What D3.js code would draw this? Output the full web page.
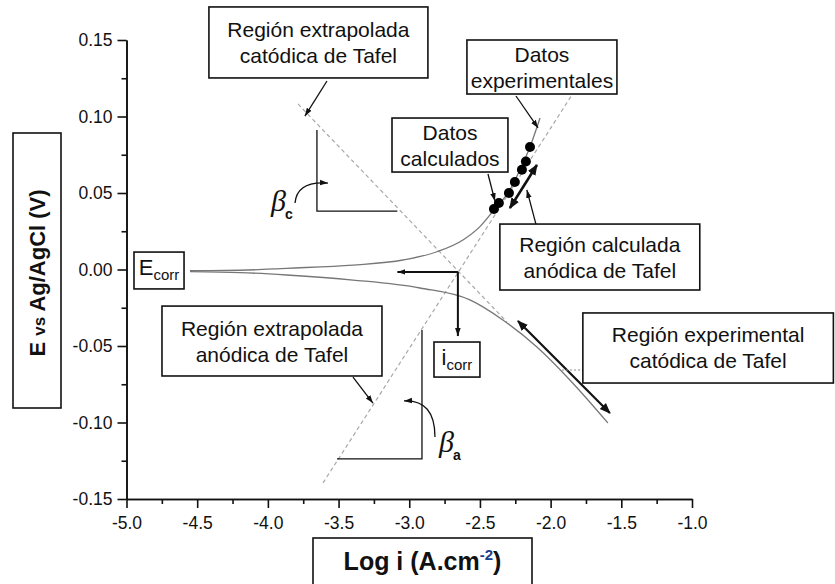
<!DOCTYPE html>
<html>
<head>
<meta charset="utf-8">
<script src="https://cdn.jsdelivr.net/npm/d3@7"></script>
<style>
  body { margin: 0; background: #fff; }
  svg { font-family: "Liberation Sans", Arial, sans-serif; }
</style>
</head>
<body>
<svg id="chart" width="835" height="584"></svg>
<script>
// axis ticks
const xTicks = [-5.0, -4.5, -4.0, -3.5, -3.0, -2.5, -2.0, -1.5, -1.0];
const xMinor = [-4.75, -4.25, -3.75, -3.25, -2.75, -2.25, -1.75, -1.25];
const yTicks = [-0.15, -0.10, -0.05, 0.00, 0.05, 0.10, 0.15];
const yMinor = [-0.125, -0.075, -0.025, 0.025, 0.075, 0.125];

// polarization curve, anodic branch (log i, E)
const anodicLogI = [-4.551, -4.197, -3.867, -3.398, -3.044, -2.804, -2.620, -2.500, -2.401, -2.288, -2.218, -2.146, -2.075];
const anodicE = [-0.0008, -0.0005, 0.0008, 0.0029, 0.0062, 0.0116, 0.0193, 0.0280, 0.0389, 0.0520, 0.0650, 0.0801, 0.0990];

// polarization curve, cathodic branch
const cathodicLogI = [-4.551, -4.197, -3.867, -3.398, -2.924, -2.571, -2.338, -2.097, -1.864, -1.595];
const cathodicE = [-0.0014, -0.0020, -0.0036, -0.0069, -0.0121, -0.0199, -0.0330, -0.0507, -0.0722, -0.1003];

// experimental points
const expLogI = [-2.401, -2.366, -2.295, -2.253, -2.203, -2.175, -2.146];
const expE = [0.0395, 0.0435, 0.0500, 0.0572, 0.0652, 0.0706, 0.0801];

// extrapolated Tafel lines (end points)
const tafelAnodicLogI = [-3.610, -1.849];
const tafelAnodicE = [-0.1395, 0.1141];
const tafelCathodicLogI = [-3.787, -2.309];
const tafelCathodicE = [0.1082, -0.0343];

// corrosion point
const logIcorr = -2.656, eCorr = -0.0016;

let svg = d3.select("#chart");

let x = d3.scaleLinear().domain([-5, -1]).range([126.5, 692]);
let y = d3.scaleLinear().domain([-0.15, 0.15]).range([499, 40]);

let defs = svg.append("defs");
defs.append("marker")
    .attr("id", "arr")
    .attr("viewBox", "0 -5 10 10")
    .attr("refX", 10)
    .attr("markerWidth", 8)
    .attr("markerHeight", 8)
    .attr("markerUnits", "userSpaceOnUse")
    .attr("orient", "auto")
    .append("path").attr("d", "M0,-3.5L10,0L0,3.5Z").attr("fill", "#111");
defs.append("marker")
    .attr("id", "arrBig")
    .attr("viewBox", "0 -5 10 10")
    .attr("refX", 9)
    .attr("markerWidth", 11)
    .attr("markerHeight", 11)
    .attr("markerUnits", "userSpaceOnUse")
    .attr("orient", "auto-start-reverse")
    .append("path").attr("d", "M0,-4L10,0L0,4Z").attr("fill", "#111");

// axes
svg.append("g")
    .attr("transform", "translate(0," + y(-0.15) + ")")
    .call(d3.axisBottom(x).tickValues(xTicks).tickSize(9).tickSizeOuter(0).tickPadding(9)
        .tickFormat(d => d.toFixed(1)));
svg.append("g")
    .attr("transform", "translate(0," + y(-0.15) + ")")
    .call(d3.axisBottom(x).tickValues(xMinor).tickSize(5).tickSizeOuter(0).tickFormat(""));
svg.append("g")
    .attr("transform", "translate(" + x(-5) + ",0)")
    .call(d3.axisLeft(y).tickValues(yTicks).tickSize(9).tickSizeOuter(0).tickPadding(5)
        .tickFormat(d => d.toFixed(2)));
svg.append("g")
    .attr("transform", "translate(" + x(-5) + ",0)")
    .call(d3.axisLeft(y).tickValues(yMinor).tickSize(5).tickSizeOuter(0).tickFormat(""));

svg.selectAll(".domain, .tick line").attr("stroke", "#111").attr("stroke-width", 1.6);
svg.selectAll(".tick text")
    .attr("font-family", "Liberation Sans, Arial, sans-serif")
    .attr("font-size", 17.5)
    .attr("fill", "#111");

// Tafel extrapolations
let line = d3.line().x(d => x(d[0])).y(d => y(d[1]));
let dashed = [
    d3.zip(tafelCathodicLogI, tafelCathodicE),
    d3.zip(tafelAnodicLogI, tafelAnodicE)
];
svg.selectAll(".tafel")
    .data(dashed)
    .enter()
    .append("path")
    .attr("class", "tafel")
    .attr("d", line)
    .attr("fill", "none")
    .attr("stroke", "#a8a8a8")
    .attr("stroke-width", 1.2)
    .attr("stroke-dasharray", "4,3");

// polarization curve
let curve = d3.line().x(d => x(d[0])).y(d => y(d[1])).curve(d3.curveMonotoneX);
svg.selectAll(".branch")
    .data([d3.zip(anodicLogI, anodicE), d3.zip(cathodicLogI, cathodicE)])
    .enter()
    .append("path")
    .attr("class", "branch")
    .attr("d", curve)
    .attr("fill", "none")
    .attr("stroke", "#777")
    .attr("stroke-width", 1.3);

// experimental points
svg.selectAll(".expdot")
    .data(d3.zip(expLogI, expE))
    .enter()
    .append("circle")
    .attr("class", "expdot")
    .attr("cx", d => x(d[0]))
    .attr("cy", d => y(d[1]))
    .attr("r", 5)
    .attr("fill", "#000");

// helpers for annotations (data coords)
function seg(a, b, opts) {
    let p = svg.append("line")
        .attr("x1", x(a[0])).attr("y1", y(a[1]))
        .attr("x2", x(b[0])).attr("y2", y(b[1]))
        .attr("stroke", opts.color || "#111")
        .attr("stroke-width", opts.width || 1.3);
    if (opts.end) p.attr("marker-end", "url(#" + opts.end + ")");
    if (opts.start) p.attr("marker-start", "url(#" + opts.start + ")");
    if (opts.dash) p.attr("stroke-dasharray", opts.dash);
    return p;
}

function box(b) {
    let x0 = x(b.x0), x1 = x(b.x1), y0 = y(b.y0), y1 = y(b.y1);
    svg.append("rect")
        .attr("x", x0).attr("y", y0)
        .attr("width", x1 - x0).attr("height", y1 - y0)
        .attr("fill", "#fff")
        .attr("stroke", "#111")
        .attr("stroke-width", 1.6);
    let cx = (x0 + x1) / 2, cy = (y0 + y1) / 2;
    b.lines.forEach(function (t, i) {
        svg.append("text")
            .attr("x", cx)
            .attr("y", cy + (i - (b.lines.length - 1) / 2) * 26 + 7.5)
            .attr("text-anchor", "middle")
            .attr("font-size", 21)
            .attr("fill", "#111")
            .text(t);
    });
}

// thick arrows along Tafel regions
seg([-2.288, 0.0402], [-2.097, 0.0683], {width: 2.6, end: "arrBig", start: "arrBig"});
seg([-2.231, -0.0337], [-1.581, -0.0938], {width: 2.2, end: "arrBig", start: "arrBig"});
seg([-1.919, -0.0657], [-1.772, -0.0657], {width: 1, color: "#888", dash: "2,2"});

// icorr / Ecorr arrows from the intersection
seg([logIcorr, eCorr], [-3.084, eCorr], {width: 2, end: "arr"});
seg([logIcorr, eCorr], [logIcorr, -0.0435], {width: 2, end: "arr"});

// beta c bracket
svg.append("path")
    .attr("d", "M" + x(-3.653) + "," + y(0.0912) + "V" + y(0.0382) + "H" + x(-3.084))
    .attr("fill", "none").attr("stroke", "#111").attr("stroke-width", 1.3);
svg.append("path")
    .attr("d", "M" + x(-3.808) + "," + y(0.0435) + "Q" + x(-3.795) + "," + y(0.0580) + " " + x(-3.575) + "," + y(0.0565))
    .attr("fill", "none").attr("stroke", "#111").attr("stroke-width", 1.3)
    .attr("marker-end", "url(#arr)");

// beta a bracket
svg.append("path")
    .attr("d", "M" + x(-2.910) + "," + y(-0.0395) + "V" + y(-0.1238) + "H" + x(-3.511))
    .attr("fill", "none").attr("stroke", "#111").attr("stroke-width", 1.3);
svg.append("path")
    .attr("d", "M" + x(-2.818) + "," + y(-0.1095) + "Q" + x(-2.818) + "," + y(-0.0850) + " " + x(-3.037) + "," + y(-0.0859))
    .attr("fill", "none").attr("stroke", "#111").attr("stroke-width", 1.3)
    .attr("marker-end", "url(#arr)");

function beta(pos, sub) {
    let t = svg.append("text")
        .attr("x", x(pos[0]))
        .attr("y", y(pos[1]))
        .attr("fill", "#111");
    t.append("tspan")
        .attr("font-family", "Liberation Serif, Times New Roman, serif")
        .attr("font-style", "italic")
        .attr("font-size", 30)
        .text("\u03b2");
    t.append("tspan")
        .attr("font-weight", 700)
        .attr("font-size", 14)
        .attr("dx", -1)
        .attr("dy", 8)
        .text(sub);
}
beta([-3.978, 0.0382], "c");
beta([-2.790, -0.1193], "a");

// text boxes
let boxes = [
    {lines: ["Región extrapolada", "catódica de Tafel"], x0: -4.417, x1: -2.868, y0: 0.1716, y1: 0.1252},
    {lines: ["Datos", "experimentales"], x0: -2.592, x1: -1.531, y0: 0.1500, y1: 0.1147},
    {lines: ["Datos", "calculados"], x0: -3.122, x1: -2.302, y0: 0.0990, y1: 0.0637},
    {lines: ["Región calculada", "anódica de Tafel"], x0: -2.359, x1: -0.945, y0: 0.0297, y1: -0.0134},
    {lines: ["Región experimental", "catódica de Tafel"], x0: -1.772, x1: 0.000, y0: -0.0284, y1: -0.0742},
    {lines: ["Región extrapolada", "anódica de Tafel"], x0: -4.749, x1: -3.193, y0: -0.0239, y1: -0.0696}
];
boxes.forEach(box);

// leader arrows from boxes
seg([-3.582, 0.1232], [-3.738, 0.1003], {end: "arr"});
seg([-2.245, 0.1134], [-2.089, 0.0925], {end: "arr"});
seg([-2.443, 0.0624], [-2.394, 0.0448], {end: "arr"});
seg([-2.104, 0.0297], [-2.168, 0.0520], {end: "arr"});
seg([-3.398, -0.0703], [-3.257, -0.0873], {end: "arr"});

// Ecorr and icorr labels
function subBox(b, main, sub) {
    let x0 = x(b.x0), x1 = x(b.x1), y0 = y(b.y0), y1 = y(b.y1);
    svg.append("rect")
        .attr("x", x0).attr("y", y0)
        .attr("width", x1 - x0).attr("height", y1 - y0)
        .attr("fill", "#fff")
        .attr("stroke", "#111")
        .attr("stroke-width", 1.6);
    let t = svg.append("text")
        .attr("x", (x0 + x1) / 2)
        .attr("y", (y0 + y1) / 2 + 5)
        .attr("text-anchor", "middle")
        .attr("fill", "#111");
    t.append("tspan").attr("font-size", 22).text(main);
    t.append("tspan").attr("font-size", 15).attr("dy", 5).text(sub);
}
subBox({x0: -4.947, x1: -4.593, y0: 0.0114, y1: -0.0127}, "E", "corr");
subBox({x0: -2.825, x1: -2.500, y0: -0.0474, y1: -0.0703}, "i", "corr");

// axis titles in boxes
svg.append("rect")
    .attr("x", 13).attr("y", 133).attr("width", 48).attr("height", 275)
    .attr("fill", "#fff").attr("stroke", "#111").attr("stroke-width", 1.6);
let ylab = svg.append("text")
    .attr("transform", "translate(45,273) rotate(-90)")
    .attr("text-anchor", "middle")
    .attr("font-weight", 700)
    .attr("fill", "#111");
ylab.append("tspan").attr("font-size", 22).text("E ");
ylab.append("tspan").attr("font-size", 17).text("vs");
ylab.append("tspan").attr("font-size", 22).text(" Ag/AgCl (V)");

svg.append("rect")
    .attr("x", 313).attr("y", 538).attr("width", 219).attr("height", 60)
    .attr("fill", "#fff").attr("stroke", "#111").attr("stroke-width", 1.6);
let xlab = svg.append("text")
    .attr("x", 422.5).attr("y", 570)
    .attr("text-anchor", "middle")
    .attr("font-weight", 700)
    .attr("font-size", 25)
    .attr("fill", "#111");
xlab.append("tspan").text("Log i (A.cm");
xlab.append("tspan").attr("font-size", 15).attr("dy", -10).attr("fill", "#1a3d8f").text("-2");
xlab.append("tspan").attr("dy", 10).text(")");
</script>
</body>
</html>
